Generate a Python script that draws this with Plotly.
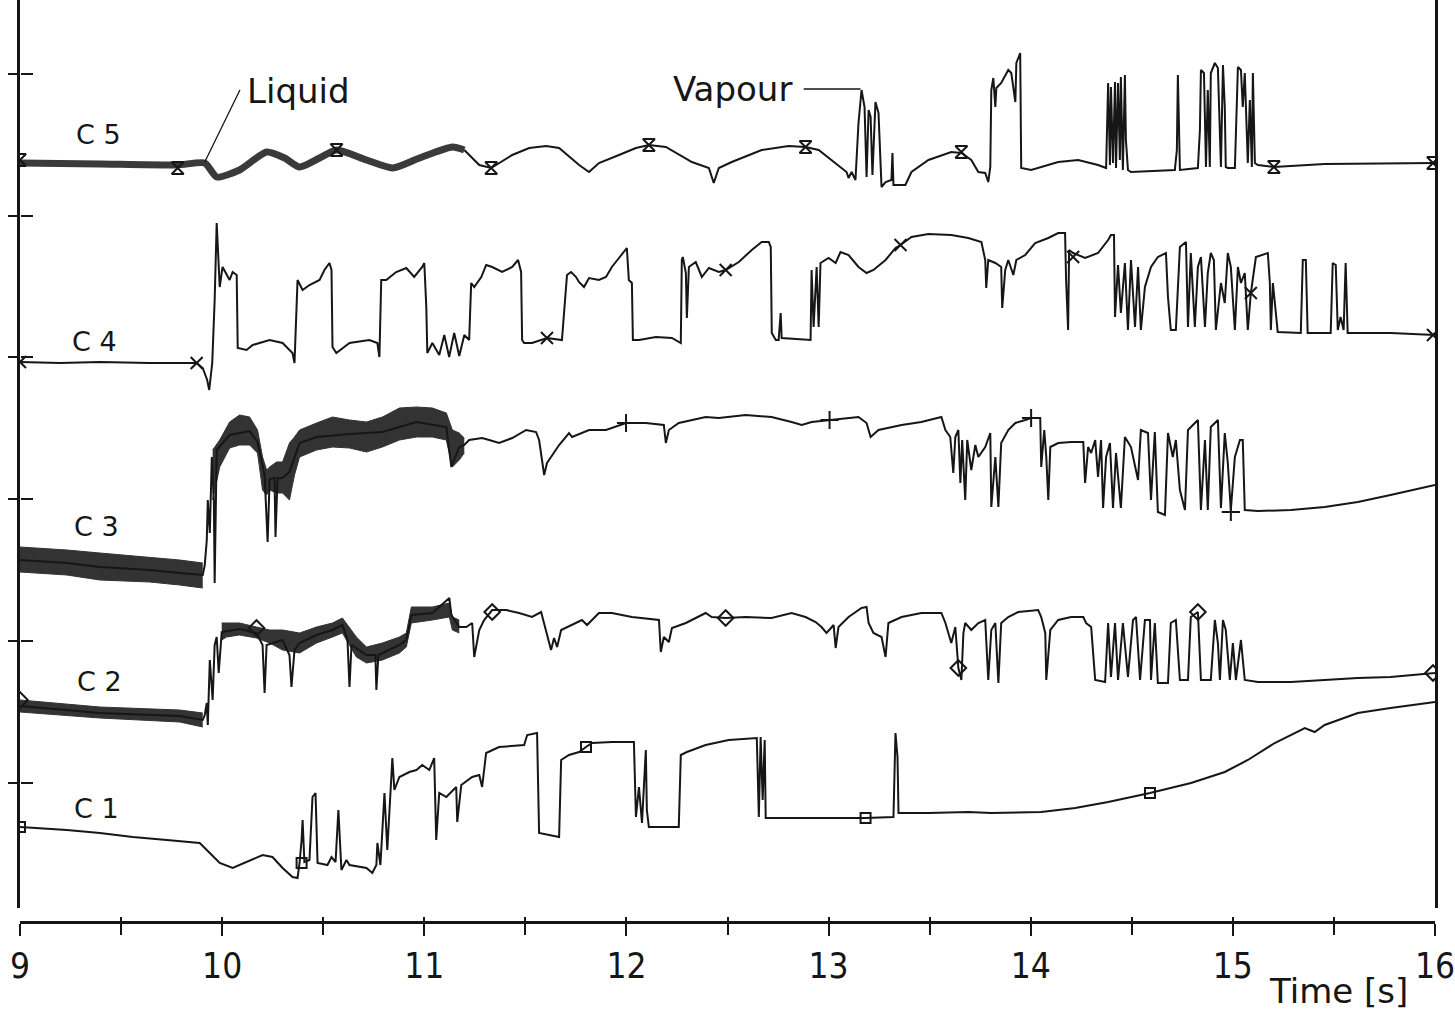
import plotly.graph_objects as go

# ---------------- data (time in s, signal in arbitrary recorder units) ----------------
C5_band_time = [9.000, 9.395, 9.780, 9.914, 9.973, 10.086, 10.220, 10.309, 10.383, 10.482, 10.566,
                10.714, 10.843, 10.976, 11.139, 11.198]
C5_band_signal = [762, 761, 760, 762, 748, 755, 773, 767, 758, 767, 775, 765, 757, 767, 778, 775]

C5_time = [11.198, 11.272, 11.331, 11.435, 11.519, 11.603, 11.667, 11.766, 11.815, 11.864, 11.963, 12.047,
           12.111, 12.195, 12.324, 12.408, 12.432, 12.457, 12.521, 12.669, 12.802, 12.886, 12.951, 13.049,
           13.089, 13.099, 13.114, 13.133, 13.148, 13.163, 13.178, 13.188, 13.198, 13.208, 13.217, 13.232,
           13.247, 13.262, 13.282, 13.311, 13.316, 13.321, 13.380, 13.410, 13.494, 13.607, 13.657, 13.706,
           13.741, 13.775, 13.790, 13.800, 13.805, 13.815, 13.825, 13.830, 13.854, 13.889, 13.904, 13.924,
           13.929, 13.948, 13.953, 14.002, 14.136, 14.235, 14.333, 14.373, 14.383, 14.392, 14.397, 14.407,
           14.417, 14.422, 14.432, 14.441, 14.446, 14.456, 14.466, 14.471, 14.481, 14.496, 14.713, 14.723,
           14.728, 14.738, 14.827, 14.837, 14.842, 14.857, 14.867, 14.876, 14.886, 14.891, 14.911, 14.926,
           14.941, 14.951, 14.960, 14.965, 14.975, 15.010, 15.025, 15.040, 15.049, 15.059, 15.074, 15.084,
           15.094, 15.099, 15.109, 15.124, 15.203, 15.454, 16.000]
C5_signal = [775, 760, 757, 770, 777, 779, 777, 760, 753, 762, 770, 777,
             780, 778, 763, 757, 742, 757, 763, 775, 779, 778, 775, 760,
             753, 747, 753, 745, 802, 835, 818, 748, 815, 808, 750, 823,
             812, 738, 743, 745, 772, 740, 740, 753, 765, 773, 772, 765,
             753, 752, 743, 758, 835, 847, 818, 837, 842, 855, 852, 823,
             862, 872, 757, 755, 763, 765, 760, 757, 842, 760, 838, 762,
             843, 757, 842, 765, 848, 755, 850, 785, 755, 753, 755, 775,
             850, 755, 757, 795, 855, 852, 758, 835, 758, 852, 862, 857,
             758, 860, 818, 758, 757, 757, 858, 855, 818, 852, 762, 825,
             758, 852, 762, 760, 758, 761, 762]

C4_time = [9.000, 9.198, 9.395, 9.642, 9.874, 9.904, 9.926, 9.936, 9.951, 9.963, 9.973, 9.978, 9.988,
           10.002, 10.037, 10.052, 10.072, 10.077, 10.121, 10.151, 10.235, 10.299, 10.348, 10.358, 10.368,
           10.373, 10.398, 10.432, 10.482, 10.506, 10.531, 10.541, 10.546, 10.565, 10.630, 10.728, 10.768,
           10.778, 10.787, 10.812, 10.861, 10.911, 10.950, 10.990, 11.000, 11.010, 11.015, 11.040, 11.074,
           11.099, 11.123, 11.148, 11.173, 11.198, 11.222, 11.232, 11.247, 11.282, 11.306, 11.336, 11.385,
           11.435, 11.464, 11.479, 11.484, 11.494, 11.533, 11.607, 11.681, 11.691, 11.706, 11.726, 11.751,
           11.765, 11.790, 11.815, 11.864, 11.899, 11.928, 11.963, 11.988, 12.002, 12.012, 12.027, 12.032,
           12.062, 12.146, 12.225, 12.269, 12.274, 12.279, 12.294, 12.299, 12.309, 12.343, 12.373, 12.408,
           12.457, 12.491, 12.556, 12.620, 12.669, 12.704, 12.714, 12.719, 12.739, 12.753, 12.763, 12.768,
           12.911, 12.916, 12.926, 12.941, 12.951, 12.960, 13.000, 13.035, 13.059, 13.099, 13.148, 13.188,
           13.222, 13.282, 13.331, 13.356, 13.410, 13.494, 13.607, 13.691, 13.756, 13.775, 13.780, 13.790,
           13.825, 13.854, 13.859, 13.874, 13.889, 13.914, 13.929, 13.973, 14.022, 14.087, 14.136, 14.170,
           14.175, 14.185, 14.190, 14.210, 14.269, 14.333, 14.383, 14.397, 14.412, 14.417, 14.432, 14.446,
           14.466, 14.481, 14.496, 14.516, 14.531, 14.545, 14.565, 14.595, 14.629, 14.669, 14.679, 14.693,
           14.718, 14.738, 14.768, 14.778, 14.792, 14.812, 14.827, 14.842, 14.862, 14.876, 14.891, 14.906,
           14.916, 14.941, 14.960, 14.975, 14.990, 15.010, 15.025, 15.040, 15.059, 15.074, 15.089, 15.114,
           15.173, 15.183, 15.188, 15.198, 15.213, 15.222, 15.336, 15.346, 15.361, 15.370, 15.484, 15.494,
           15.509, 15.519, 15.533, 15.548, 15.558, 15.568, 15.780, 16.000]
C4_signal = [563, 562, 563, 562, 562, 557, 545, 535, 562, 625, 702, 675, 638,
             658, 645, 653, 650, 577, 575, 580, 585, 582, 572, 562, 615,
             645, 635, 640, 645, 655, 662, 655, 578, 572, 582, 585, 582,
             568, 645, 645, 653, 657, 648, 658, 662, 618, 572, 582, 570,
             590, 568, 592, 569, 590, 585, 642, 638, 648, 660, 658, 653,
             658, 665, 653, 585, 582, 582, 587, 585, 615, 650, 653, 648,
             643, 638, 647, 645, 648, 658, 667, 673, 677, 645, 642, 585,
             585, 588, 587, 582, 665, 668, 652, 607, 658, 663, 648, 657,
             653, 655, 663, 675, 683, 683, 678, 592, 585, 585, 612, 587,
             585, 655, 598, 658, 598, 662, 667, 662, 673, 670, 658, 652,
             655, 665, 677, 680, 688, 691, 690, 687, 683, 665, 637, 665,
             662, 658, 617, 655, 665, 650, 665, 670, 682, 687, 692, 692,
             645, 595, 675, 672, 667, 672, 685, 690, 690, 608, 660, 612,
             662, 595, 665, 598, 658, 595, 638, 658, 668, 672, 628, 595,
             595, 678, 683, 598, 672, 598, 658, 668, 598, 652, 672, 665,
             595, 642, 622, 672, 658, 595, 658, 642, 652, 595, 632, 668,
             672, 642, 595, 642, 608, 593, 592, 665, 665, 592, 592, 662,
             660, 595, 608, 595, 662, 592, 592, 590]

C3_band1_time = [9.000, 9.232, 9.395, 9.642, 9.790, 9.904]
C3_band1_upper = [378, 375, 372, 368, 365, 362]
C3_band1_lower = [353, 350, 345, 343, 340, 337]

C3_band2_time = [9.953, 9.988, 10.037, 10.086, 10.136, 10.175, 10.200, 10.220, 10.235, 10.269, 10.299,
                 10.333, 10.358, 10.383, 10.467, 10.546, 10.630, 10.714, 10.793, 10.877, 10.961, 11.040,
                 11.109, 11.139, 11.173, 11.198]
C3_band2_upper = [475, 485, 503, 510, 508, 495, 468, 455, 458, 463, 463,
                  482, 488, 495, 502, 508, 505, 503, 508, 517, 518, 517,
                  512, 495, 492, 487]
C3_band2_lower = [425, 458, 477, 480, 480, 472, 435, 430, 435, 432, 432,
                  425, 450, 468, 475, 478, 477, 473, 478, 485, 488, 488,
                  485, 458, 465, 472]

C3_time = [9.000, 9.232, 9.395, 9.642, 9.790, 9.904, 9.914, 9.924, 9.929, 9.939, 9.949, 9.959, 9.963,
           9.973, 10.037, 10.136, 10.175, 10.210, 10.225, 10.235, 10.259, 10.264, 10.274, 10.299, 10.333,
           10.383, 10.467, 10.630, 10.793, 10.961, 11.109, 11.134, 11.173, 11.198, 11.222, 11.286, 11.321,
           11.370, 11.435, 11.504, 11.553, 11.568, 11.593, 11.607, 11.627, 11.667, 11.716, 11.731, 11.815,
           11.899, 11.998, 12.096, 12.185, 12.195, 12.210, 12.259, 12.392, 12.457, 12.590, 12.718, 12.817,
           12.867, 12.916, 13.005, 13.084, 13.148, 13.188, 13.208, 13.247, 13.361, 13.459, 13.558, 13.578,
           13.602, 13.617, 13.627, 13.642, 13.652, 13.661, 13.676, 13.686, 13.706, 13.726, 13.741, 13.775,
           13.800, 13.805, 13.825, 13.840, 13.854, 13.889, 13.924, 13.973, 14.002, 14.047, 14.052, 14.067,
           14.077, 14.087, 14.097, 14.136, 14.200, 14.260, 14.269, 14.284, 14.299, 14.319, 14.333, 14.348,
           14.358, 14.373, 14.392, 14.407, 14.422, 14.446, 14.466, 14.496, 14.531, 14.545, 14.580, 14.595,
           14.614, 14.629, 14.664, 14.679, 14.703, 14.718, 14.738, 14.763, 14.778, 14.827, 14.842, 14.862,
           14.876, 14.891, 14.926, 14.941, 14.960, 14.975, 14.990, 15.010, 15.035, 15.049, 15.059, 15.124,
           15.287, 15.454, 15.618, 15.780, 16.000]
C3_signal = [365, 362, 358, 355, 352, 350, 360, 385, 425, 392, 468, 425, 342,
             475, 490, 494, 483, 450, 383, 446, 447, 388, 447, 447, 453,
             482, 488, 491, 493, 503, 498, 458, 478, 480, 485, 487, 485,
             482, 487, 495, 493, 485, 450, 462, 468, 480, 492, 488, 495,
             495, 502, 502, 500, 482, 495, 502, 508, 507, 510, 508, 503,
             500, 503, 505, 507, 508, 502, 488, 495, 500, 503, 508, 495,
             488, 452, 488, 495, 442, 485, 425, 485, 455, 480, 468, 478,
             492, 418, 468, 418, 482, 495, 502, 505, 507, 507, 458, 495,
             468, 425, 478, 482, 483, 483, 442, 478, 472, 485, 448, 485,
             417, 468, 482, 417, 472, 417, 488, 478, 445, 495, 492, 425,
             493, 413, 410, 492, 468, 485, 435, 415, 495, 505, 415, 485,
             415, 498, 505, 417, 492, 462, 415, 468, 485, 485, 415, 414,
             415, 418, 423, 430, 440]

C2_band1_time = [9.000, 9.395, 9.790, 9.904]
C2_band1_upper = [225, 218, 215, 212]
C2_band1_lower = [213, 207, 203, 198]

C2_band2_time = [9.998, 10.022, 10.086, 10.170, 10.235, 10.299, 10.383, 10.467, 10.546, 10.595, 10.664,
                 10.714, 10.793, 10.877, 10.911, 10.936, 11.040, 11.124, 11.139, 11.173]
C2_band2_upper = [302, 302, 302, 298, 295, 295, 292, 298, 302, 307, 288,
                  278, 282, 288, 292, 318, 318, 322, 308, 305]
C2_band2_lower = [285, 288, 290, 287, 282, 275, 272, 282, 288, 292, 268,
                  262, 265, 272, 278, 302, 305, 308, 295, 292]

C2_time = [9.000, 9.395, 9.790, 9.904, 9.914, 9.924, 9.929, 9.939, 9.953, 9.963, 9.973, 9.983, 9.998,
           10.086, 10.170, 10.200, 10.210, 10.220, 10.299, 10.333, 10.343, 10.358, 10.383, 10.467, 10.546,
           10.595, 10.620, 10.630, 10.640, 10.714, 10.758, 10.763, 10.773, 10.877, 10.911, 10.936, 11.040,
           11.124, 11.134, 11.173, 11.188, 11.208, 11.237, 11.247, 11.272, 11.296, 11.336, 11.405, 11.469,
           11.533, 11.578, 11.593, 11.627, 11.642, 11.657, 11.677, 11.731, 11.780, 11.805, 11.864, 11.928,
           12.027, 12.161, 12.170, 12.185, 12.210, 12.225, 12.294, 12.392, 12.422, 12.491, 12.590, 12.718,
           12.817, 12.886, 12.936, 12.965, 12.990, 13.025, 13.035, 13.049, 13.099, 13.163, 13.188, 13.198,
           13.222, 13.262, 13.282, 13.296, 13.361, 13.459, 13.558, 13.578, 13.607, 13.627, 13.642, 13.657,
           13.667, 13.676, 13.706, 13.741, 13.775, 13.790, 13.805, 13.825, 13.840, 13.854, 13.889, 13.938,
           14.037, 14.052, 14.072, 14.077, 14.097, 14.136, 14.200, 14.260, 14.274, 14.299, 14.319, 14.368,
           14.383, 14.397, 14.417, 14.432, 14.456, 14.481, 14.506, 14.521, 14.541, 14.565, 14.590, 14.595,
           14.614, 14.629, 14.679, 14.693, 14.718, 14.738, 14.778, 14.792, 14.827, 14.842, 14.891, 14.911,
           14.926, 14.936, 14.951, 14.965, 14.985, 15.000, 15.015, 15.040, 15.059, 15.124, 15.287, 15.454,
           15.618, 15.780, 16.000]
C2_signal = [219, 212, 209, 205, 210, 222, 200, 265, 225, 280, 288, 252, 293,
             296, 292, 280, 232, 280, 285, 270, 238, 275, 282, 290, 295,
             300, 285, 238, 280, 270, 270, 235, 270, 280, 285, 310, 312,
             327, 310, 298, 298, 298, 302, 268, 295, 305, 315, 315, 312,
             308, 313, 302, 275, 287, 278, 295, 300, 305, 300, 312, 312,
             308, 305, 273, 288, 283, 297, 302, 312, 308, 307, 308, 307,
             312, 308, 303, 298, 292, 300, 277, 298, 308, 317, 318, 302,
             292, 288, 268, 302, 308, 312, 312, 302, 282, 298, 257, 245,
             292, 302, 295, 302, 305, 245, 295, 302, 242, 302, 308, 313,
             315, 308, 292, 245, 295, 305, 308, 308, 302, 298, 245, 243,
             302, 248, 302, 245, 302, 248, 305, 308, 245, 305, 305, 245,
             302, 242, 242, 302, 305, 245, 245, 308, 313, 245, 245, 305,
             282, 245, 305, 295, 245, 282, 245, 285, 245, 243, 243, 245,
             247, 248, 252]

C1_time = [9.000, 9.232, 9.395, 9.558, 9.726, 9.889, 9.924, 9.988, 10.052, 10.121, 10.200, 10.249, 10.299,
           10.348, 10.373, 10.383, 10.393, 10.398, 10.407, 10.432, 10.447, 10.462, 10.472, 10.521, 10.541,
           10.561, 10.575, 10.590, 10.615, 10.630, 10.714, 10.743, 10.763, 10.768, 10.783, 10.803, 10.817,
           10.837, 10.842, 10.852, 10.877, 10.926, 10.961, 10.990, 11.025, 11.049, 11.059, 11.074, 11.109,
           11.158, 11.163, 11.183, 11.237, 11.272, 11.286, 11.306, 11.370, 11.494, 11.509, 11.558, 11.568,
           11.667, 11.677, 11.716, 11.766, 11.800, 11.830, 11.928, 12.037, 12.047, 12.062, 12.077, 12.096,
           12.101, 12.111, 12.195, 12.259, 12.269, 12.299, 12.392, 12.506, 12.645, 12.655, 12.664, 12.674,
           12.684, 12.689, 12.916, 13.183, 13.321, 13.331, 13.341, 13.346, 13.494, 13.691, 13.805, 14.052,
           14.220, 14.383, 14.590, 14.793, 14.960, 15.074, 15.207, 15.356, 15.405, 15.454, 15.618, 15.780,
           16.000]
C1_signal = [98, 95, 92, 88, 85, 82, 75, 62, 57, 63, 70, 68, 57,
             48, 47, 62, 85, 105, 63, 65, 128, 132, 62, 60, 68,
             63, 115, 55, 65, 60, 57, 52, 60, 82, 60, 132, 75,
             148, 167, 135, 148, 153, 155, 160, 155, 167, 85, 132, 128,
             138, 103, 140, 148, 150, 138, 172, 178, 180, 190, 192, 92,
             88, 165, 170, 173, 178, 182, 183, 183, 108, 138, 102, 175,
             115, 98, 98, 98, 170, 173, 180, 185, 187, 108, 188, 125,
             185, 107, 107, 107, 108, 192, 168, 112, 112, 113, 112, 113,
             117, 123, 132, 142, 153, 165, 182, 197, 193, 200, 212, 217,
             223]

# symbol positions along each trace
C5_marker_time = [9.000, 9.780, 10.566, 11.331, 12.111, 12.886, 13.657, 15.203, 15.990]
C5_marker_signal = [765, 757, 775, 757, 780, 778, 773, 758, 762]
C4_marker_time = [9.000, 9.874, 11.607, 12.491, 13.356, 14.210, 15.089, 15.990]
C4_marker_signal = [563, 562, 587, 655, 680, 668, 632, 590]
C3_marker_time = [11.998, 13.005, 14.002, 14.990]
C3_marker_signal = [502, 505, 507, 413]
C2_marker_time = [9.000, 10.170, 11.336, 12.491, 13.642, 14.827, 15.990]
C2_marker_signal = [225, 297, 313, 307, 257, 313, 252]
C1_marker_time = [9.000, 10.393, 11.800, 13.183, 14.590]
C1_marker_signal = [98, 62, 178, 107, 132]

channel_names = ["C 5", "C 4", "C 3", "C 2", "C 1"]
tick_values_time = [9, 10, 11, 12, 13, 14, 15, 16]

# leader lines for the annotations (data units)
liquid_leader_time = [10.088, 9.914]
liquid_leader_signal = [835, 763]
vapour_leader_time = [12.877, 13.158]
vapour_leader_signal = [836, 836]

# ---------------- figure ----------------
INK = "#161616"
BAND = "#333333"
FONT = "DejaVu Sans"
TICK_FONT = "Liberation Sans Narrow, DejaVu Sans Condensed, DejaVu Sans"
Y_RANGE = [17, 925]
Y_STEP = 141.9

fig = go.Figure()


def add_band(t, lower, upper):
    fig.add_trace(go.Scatter(x=t, y=lower, mode="lines", line=dict(color=BAND, width=1),
                             hoverinfo="skip"))
    fig.add_trace(go.Scatter(x=t, y=upper, mode="lines", line=dict(color=BAND, width=1),
                             fill="tonexty", fillcolor=BAND, hoverinfo="skip"))


add_band(C3_band1_time, C3_band1_lower, C3_band1_upper)
add_band(C3_band2_time, C3_band2_lower, C3_band2_upper)
add_band(C2_band1_time, C2_band1_lower, C2_band1_upper)
add_band(C2_band2_time, C2_band2_lower, C2_band2_upper)

fig.add_trace(go.Scatter(x=C5_band_time, y=C5_band_signal, mode="lines",
                         line=dict(color="#3a3a3a", width=7, shape="spline", smoothing=0.6),
                         hoverinfo="skip"))

for t, s in [(C5_time, C5_signal), (C4_time, C4_signal), (C3_time, C3_signal),
             (C2_time, C2_signal), (C1_time, C1_signal)]:
    fig.add_trace(go.Scatter(x=t, y=s, mode="lines", line=dict(color=INK, width=2)))

for t, s, sym, size in [(C5_marker_time, C5_marker_signal, "hourglass-open", 12),
                        (C4_marker_time, C4_marker_signal, "x-thin-open", 12),
                        (C3_marker_time, C3_marker_signal, "cross-thin-open", 13),
                        (C2_marker_time, C2_marker_signal, "diamond-open", 12),
                        (C1_marker_time, C1_marker_signal, "square-open", 10)]:
    fig.add_trace(go.Scatter(x=t, y=s, mode="markers",
                             marker=dict(symbol=sym, size=size, color=INK,
                                         line=dict(color=INK, width=2))))

for t, s in [(liquid_leader_time, liquid_leader_signal), (vapour_leader_time, vapour_leader_signal)]:
    fig.add_trace(go.Scatter(x=t, y=s, mode="lines", line=dict(color=INK, width=1.3),
                             xaxis="x2", yaxis="y2", hoverinfo="skip"))

label_pos = [(9.390, 791), (9.370, 584), (9.380, 399), (9.395, 244), (9.380, 117)]
annotations = []
for name, (lx, ly) in zip(channel_names, label_pos):
    annotations.append(dict(x=lx, y=ly, xref="x", yref="y", text=name, showarrow=False,
                            font=dict(family=FONT, size=27, color=INK)))
annotations.append(dict(x=10.111, y=834, xref="x", yref="y", text="Liquid", showarrow=False,
                        xanchor="left", font=dict(family=FONT, size=34, color=INK)))
annotations.append(dict(x=12.219, y=836, xref="x", yref="y", text="Vapour", showarrow=False,
                        xanchor="left", font=dict(family=FONT, size=34, color=INK)))
annotations.append(dict(x=15.523, y=-0.075, xref="x", yref="paper", text="Time [s]", showarrow=False,
                        yanchor="middle", font=dict(family=FONT, size=34, color=INK)))

fig.update_layout(
    width=1455, height=1012,
    margin=dict(l=20, r=18, t=0, b=90),
    paper_bgcolor="white", plot_bgcolor="white",
    showlegend=False,
    annotations=annotations,
    xaxis=dict(range=[9, 16], anchor="free", position=0, showline=True, linecolor=INK, linewidth=2.5,
               tickmode="array", tickvals=tick_values_time, ticks="outside", ticklen=12, tickwidth=2,
               tickcolor=INK, ticklabelstandoff=0, ticklabeloverflow="allow",
               minor=dict(ticks="outside", dtick=0.5, ticklen=11, tickwidth=2, tickcolor=INK),
               showgrid=False, zeroline=False,
               tickfont=dict(family=TICK_FONT, size=35, color=INK)),
    xaxis2=dict(range=[9, 16], overlaying="x", anchor="free", position=0, side="bottom",
                showline=False, tickmode="linear", tick0=9, dtick=0.5, ticks="inside", ticklen=5,
                tickwidth=2, tickcolor=INK, showticklabels=False, showgrid=False, zeroline=False),
    yaxis=dict(range=Y_RANGE, domain=[14 / 922, 1], showline=True, linecolor=INK, linewidth=2.5,
               mirror=True, tickmode="linear", tick0=0, dtick=Y_STEP, ticks="outside", ticklen=9,
               tickwidth=2, tickcolor=INK, showticklabels=False, showgrid=False, zeroline=False),
    yaxis2=dict(range=Y_RANGE, overlaying="y", side="left", anchor="free", position=0,
                tickmode="linear", tick0=0, dtick=Y_STEP, ticks="inside", ticklen=12, tickwidth=2,
                tickcolor=INK, showticklabels=False, showgrid=False, zeroline=False, showline=False),
)

fig.write_html("out.html")
